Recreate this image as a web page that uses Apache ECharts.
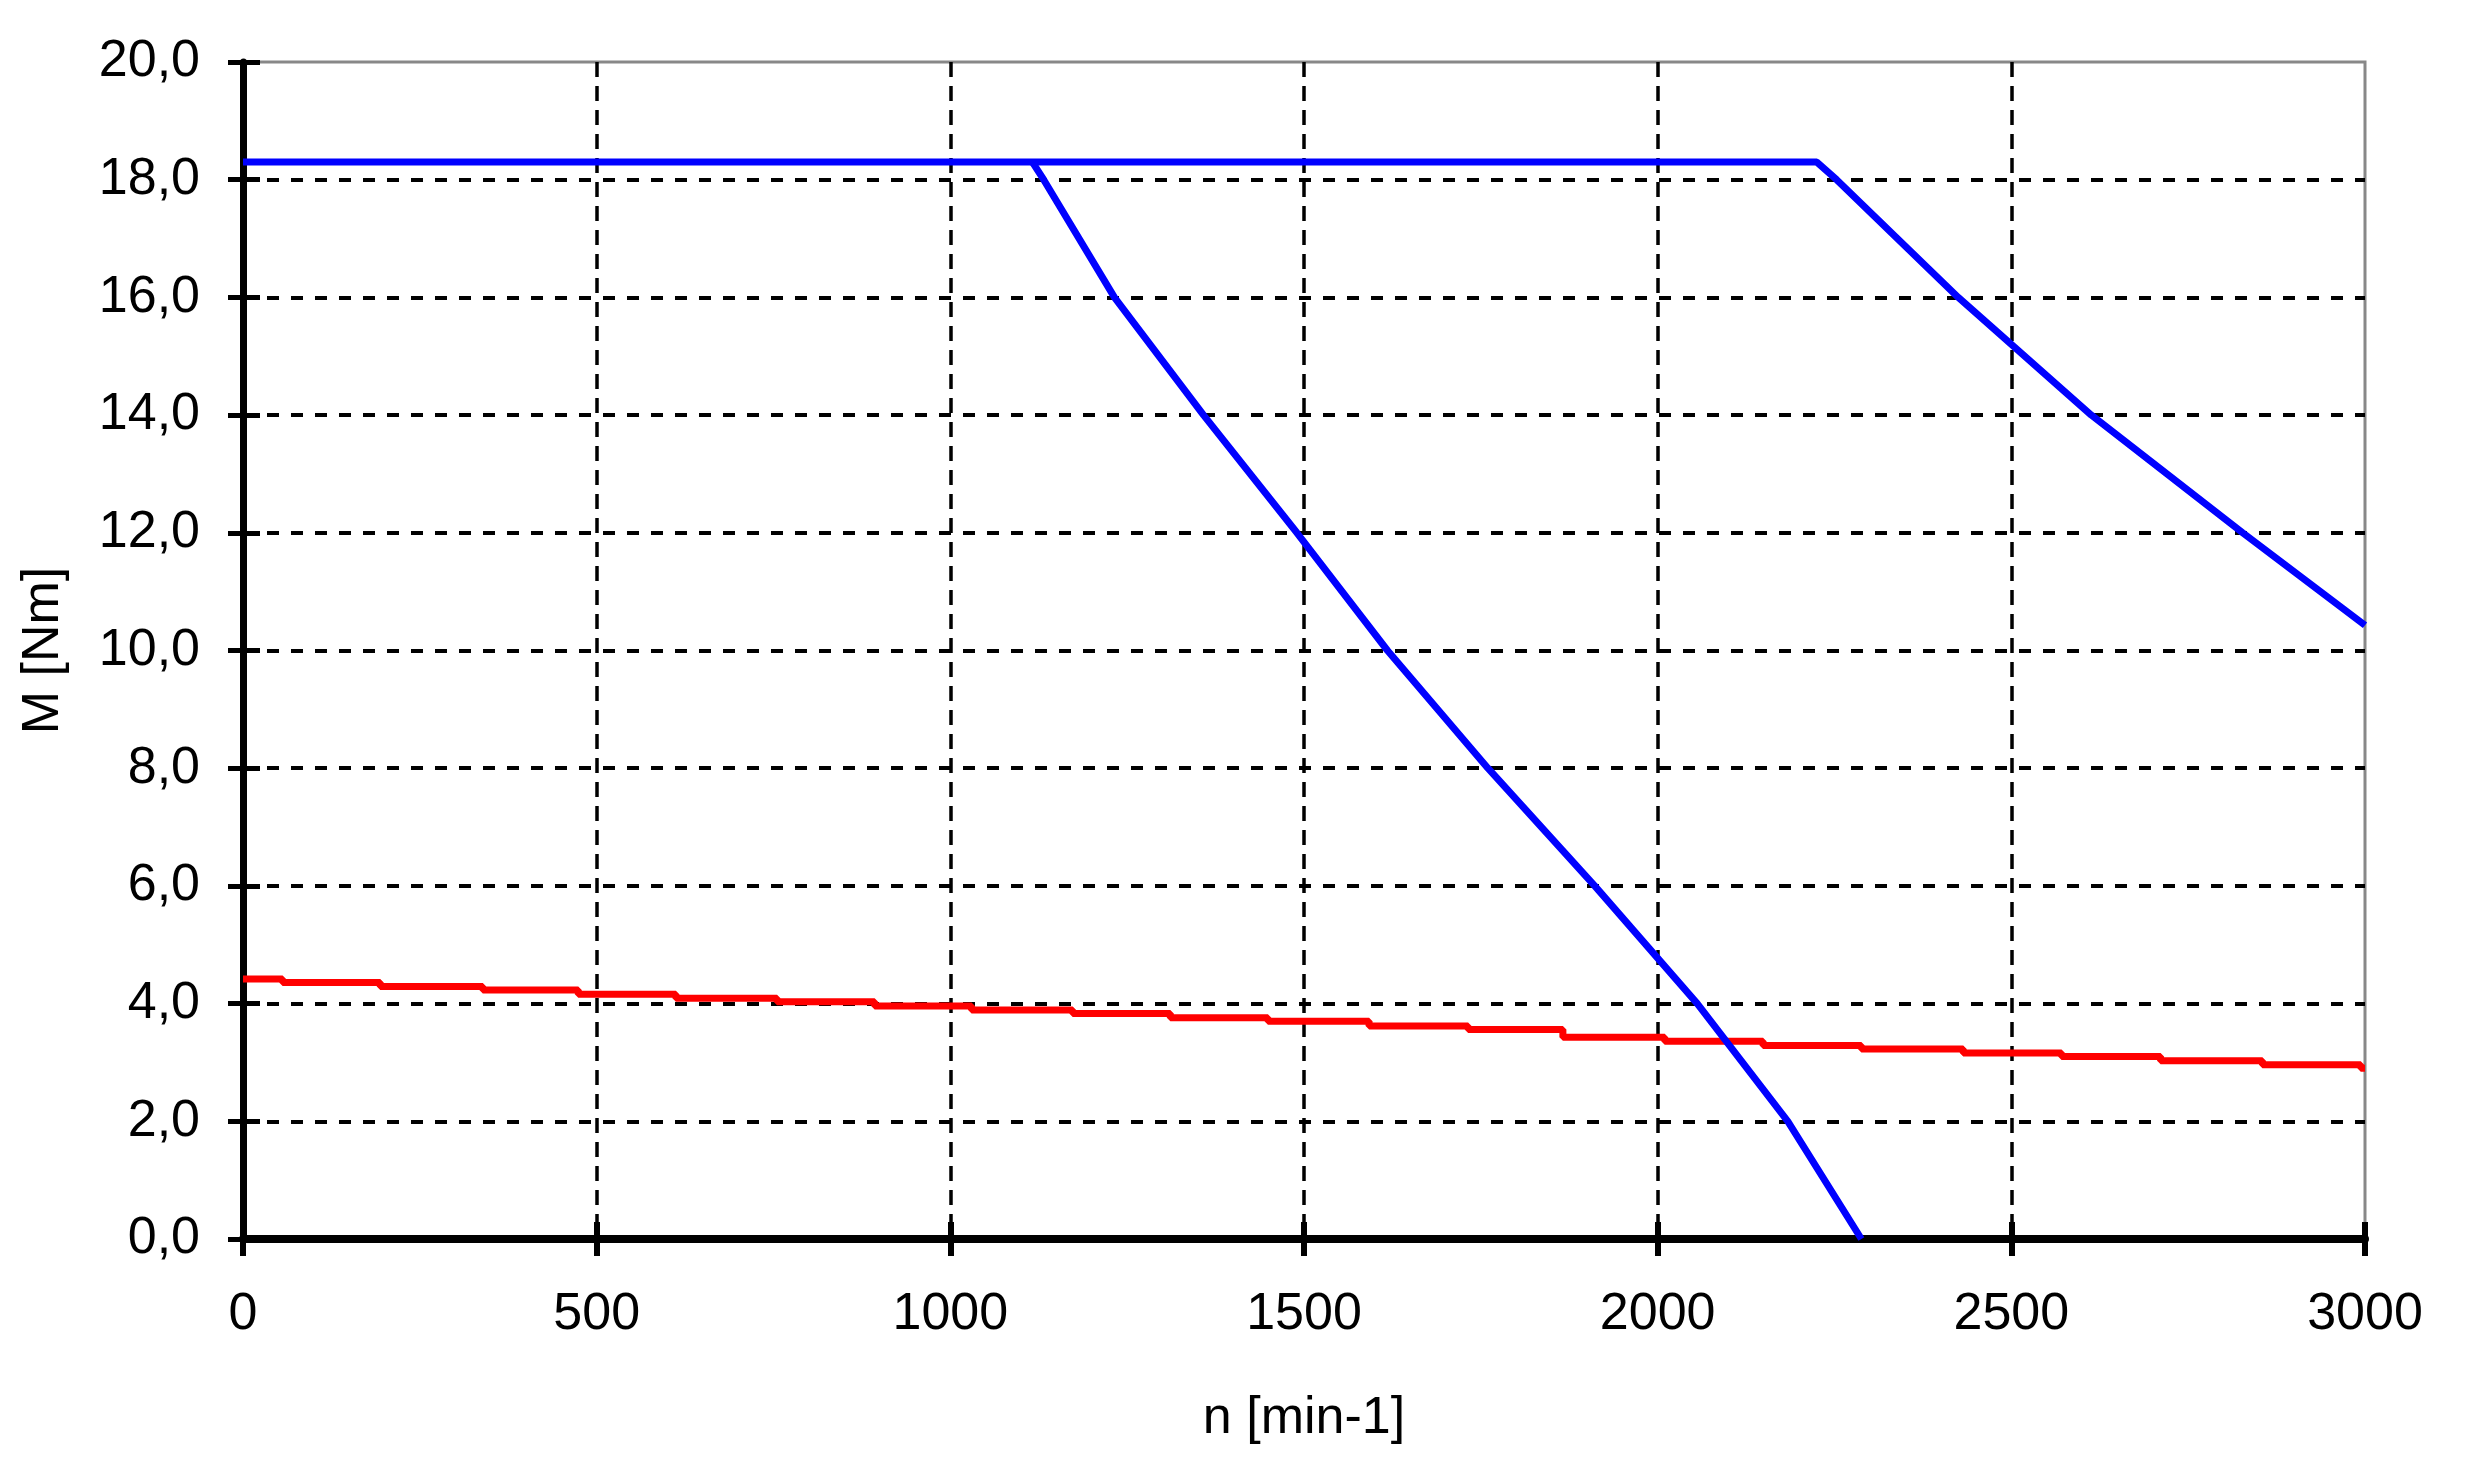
<!DOCTYPE html>
<html>
<head>
<meta charset="utf-8">
<title>M-n</title>
<script src="https://cdn.jsdelivr.net/npm/echarts@6.0.0/dist/echarts.min.js"></script>
<style>
  * { margin: 0; padding: 0; }
  html, body { width: 100%; height: 100%; background: #fff; }
  #chart { width: 2472px; height: 1476px; }
</style>
</head>
<body>
<div id="chart"></div>
<script>
// speed n [min-1] and torque M [Nm]
const nLimit = [0, 2225, 2253, 2425, 2613, 2827, 3000];
const mLimit = [18.3, 18.3, 18.0, 16.0, 14.0, 12.0, 10.43];

const nDrop = [1116, 1132, 1232, 1358, 1490, 1618, 1760, 1911, 2056, 2184, 2288];
const mDrop = [18.3, 18.0, 16.0, 14.0, 12.0, 10.0, 8.0, 6.0, 4.0, 2.0, 0.0];

const nLoad = [0, 56, 194, 339, 474, 612, 755, 893, 1030, 1173, 1311, 1449,
  1592, 1732, 1866, 2010, 2149, 2288, 2432, 2571, 2711, 2855, 2994, 3000];
const mLoad = [4.42, 4.36, 4.29, 4.23, 4.16, 4.09, 4.03, 3.96, 3.89, 3.83, 3.76, 3.70,
  3.62, 3.56, 3.43, 3.36, 3.29, 3.23, 3.16, 3.10, 3.03, 2.96, 2.90, 2.90];

const xName = 'n [min-1]';
const yName = 'M [Nm]';

function zip(xs, ys) {
  return xs.map((x, i) => [x, ys[i]]);
}

const font = "'Liberation Sans', Arial, sans-serif";
const fs = 52;

const chart = echarts.init(document.getElementById('chart'));

const option = {
  animation: false,
  backgroundColor: '#fff',
  grid: {
    left: 243, right: 107, top: 62, bottom: 237,
    show: true, borderColor: '#888', borderWidth: 3
  },
  xAxis: [
    {
      type: 'value', min: 0, max: 3000, interval: 500,
      name: xName, nameLocation: 'middle', nameGap: 154,
      nameTextStyle: { fontFamily: font, fontSize: fs, color: '#000' },
      axisLine: { onZero: false, lineStyle: { color: '#000', width: 8 } },
      axisTick: { length: 17, lineStyle: { color: '#000', width: 6 } },
      axisLabel: {
        margin: 50, fontFamily: font, fontSize: fs, color: '#000',
        formatter: v => String(v)
      },
      splitLine: {
        show: true, showMinLine: false, showMaxLine: false,
        lineStyle: { color: '#000', width: 3.5, type: [15, 9] }
      }
    },
    {
      type: 'value', min: 0, max: 3000, interval: 500, position: 'bottom',
      axisLine: { show: false },
      axisTick: { inside: true, length: 17, lineStyle: { color: '#000', width: 6 } },
      axisLabel: { show: false },
      splitLine: { show: false }
    }
  ],
  yAxis: [
    {
      type: 'value', min: 0, max: 20, interval: 2,
      name: yName, nameLocation: 'middle', nameGap: 173,
      nameTextStyle: { fontFamily: font, fontSize: fs, color: '#000' },
      axisLine: { onZero: false, lineStyle: { color: '#000', width: 7 } },
      axisTick: { length: 15, lineStyle: { color: '#000', width: 5 } },
      axisLabel: {
        margin: 43, fontFamily: font, fontSize: fs, color: '#000',
        formatter: v => v.toFixed(1).replace('.', ',')
      },
      splitLine: {
        show: true, showMinLine: false, showMaxLine: false,
        lineStyle: { color: '#000', width: 4, type: [12, 12] }
      }
    },
    {
      type: 'value', min: 0, max: 20, interval: 2, position: 'left',
      axisLine: { show: false },
      axisTick: { inside: true, length: 17, lineStyle: { color: '#000', width: 5 } },
      axisLabel: { show: false },
      splitLine: { show: false }
    }
  ],
  series: [
    {
      type: 'line', step: 'end', symbol: 'none',
      data: zip(nLoad, mLoad),
      lineStyle: { color: '#ff0000', width: 7 }
    },
    {
      type: 'line', symbol: 'none',
      data: zip(nLimit, mLimit),
      lineStyle: { color: '#0000ff', width: 7 }
    },
    {
      type: 'line', symbol: 'none',
      data: zip(nDrop, mDrop),
      lineStyle: { color: '#0000ff', width: 7 }
    }
  ]
};

chart.setOption(option);
</script>
</body>
</html>
